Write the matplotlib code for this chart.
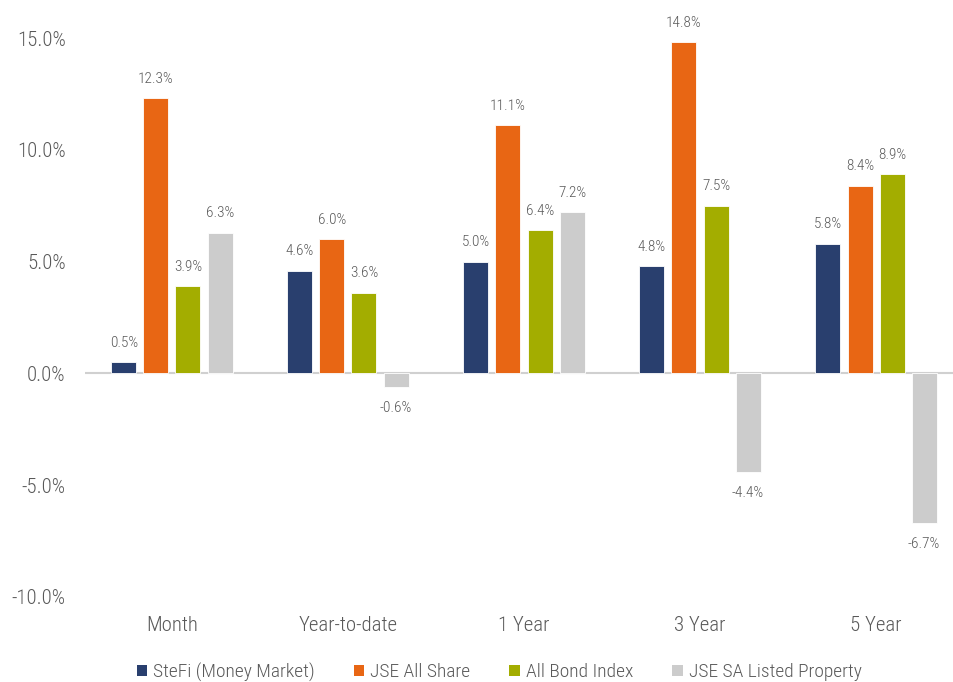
import numpy as np
import matplotlib
matplotlib.use("Agg")
import matplotlib.pyplot as plt
from matplotlib.patches import Patch

# dati
categories = ["Month", "Year-to-date", "1 Year", "3 Year", "5 Year"]
series_names = ["SteFi (Money Market)", "JSE All Share", "All Bond Index", "JSE SA Listed Property"]
stefi = [0.5, 4.6, 5.0, 4.8, 5.8]
jse_all_share = [12.3, 6.0, 11.1, 14.8, 8.4]
all_bond = [3.9, 3.6, 6.4, 7.5, 8.9]
listed_property = [6.3, -0.6, 7.2, -4.4, -6.7]
y_ticks = [-10, -5, 0, 5, 10, 15]

colors = ["#293F6E", "#E86614", "#A3AD00", "#CCCCCC"]
text_col = "#595959"

plt.rcParams['font.family'] = ['Roboto Condensed', 'DejaVu Sans']
plt.rcParams['font.weight'] = 300

fig = plt.figure(figsize=(9.54, 6.82), dpi=100)
ax = fig.add_axes([85 / 954, 85 / 682, 869 / 954, 559 / 682])

x = np.arange(len(categories))
pitch = 0.182
width = 0.142
all_series = [stefi, jse_all_share, all_bond, listed_property]

for i, vals in enumerate(all_series):
    pos = x + (i - 1.5) * pitch
    ax.bar(pos, vals, width=width, color=colors[i], edgecolor="white", linewidth=0.6, zorder=2)
    for px, v in zip(pos, vals):
        if v >= 0:
            ax.annotate(f"{v:.1f}%", (px, v), xytext=(0, 9), textcoords="offset points",
                        ha="center", va="bottom", fontsize=11, color=text_col)
        else:
            ax.annotate(f"{v:.1f}%", (px, v), xytext=(0, -10), textcoords="offset points",
                        ha="center", va="top", fontsize=11, color=text_col)

ax.axhline(0, color="#D0D0D0", linewidth=1.5, zorder=1)
ax.set_xlim(-0.494, 4.443)
ax.set_ylim(-10, 15)
ax.set_yticks(y_ticks)
ax.set_yticklabels([f"{t:.1f}%" for t in y_ticks], fontsize=15, color=text_col)
ax.set_xticks(x)
ax.set_xticklabels(categories, fontsize=15, color=text_col)
ax.tick_params(axis="y", length=0, pad=14)
ax.tick_params(axis="x", length=0, pad=14)
for s in ax.spines.values():
    s.set_visible(False)

handles = [Patch(facecolor=c, edgecolor="none") for c in colors]
fig.legend(handles, series_names, loc="center", bbox_to_anchor=(499 / 954, 1 - 672 / 682),
           ncol=4, frameon=False, fontsize=14, labelcolor=text_col,
           handlelength=0.55, handleheight=0.55, handletextpad=0.3, columnspacing=2.0)

fig.savefig("out.png", dpi=100)
